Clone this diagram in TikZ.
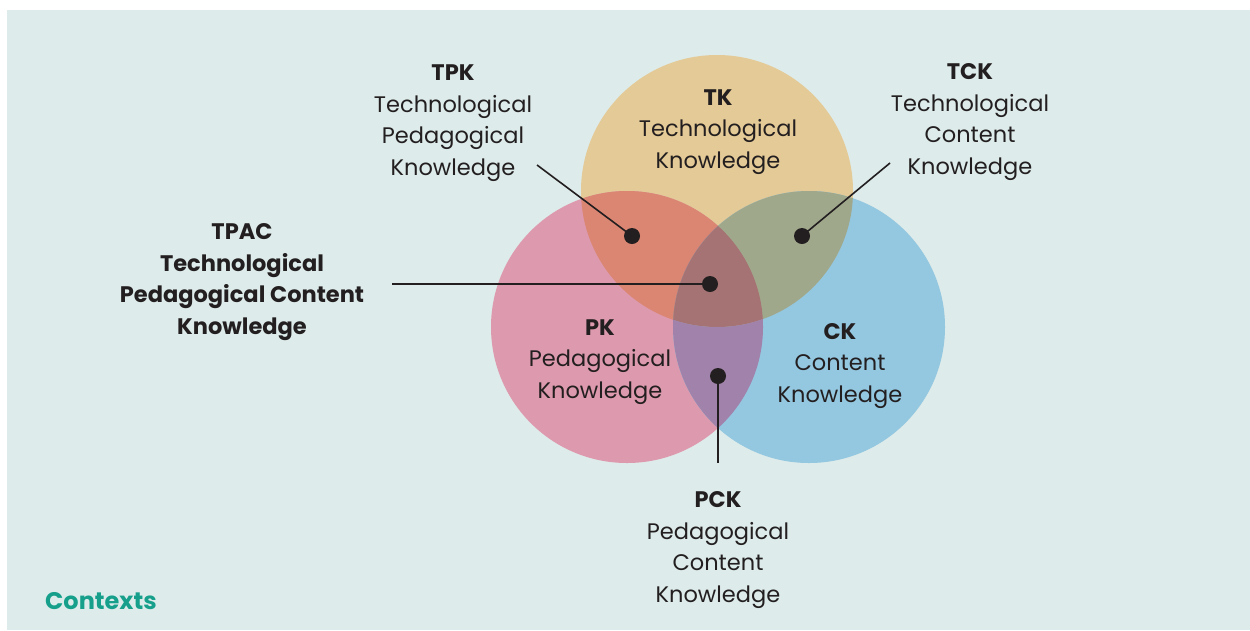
\documentclass[tikz,border=0pt]{standalone}
\usepackage{fontspec}
\setmainfont{Poppins}
\usetikzlibrary{backgrounds}

\definecolor{bgcol}{HTML}{DDEBEA}
\definecolor{tkcol}{HTML}{E4CA96}
\definecolor{pkcol}{HTML}{DD9AAE}
\definecolor{ckcol}{HTML}{94C7E0}
\definecolor{tpkcol}{HTML}{DA8672}
\definecolor{tckcol}{HTML}{A0A88C}
\definecolor{pckcol}{HTML}{A082AA}
\definecolor{tpaccol}{HTML}{A57373}
\definecolor{inkcol}{HTML}{231F20}
\definecolor{ctxcol}{HTML}{16A08C}

\tikzset{
  lbl/.style={align=center, text=inkcol, inner sep=0pt,
    font=\fontsize{22.5}{31.7}\selectfont},
  pin/.style={fill=inkcol, radius=8pt},
  lead/.style={draw=inkcol, line width=1.6pt}
}

\begin{document}
\begin{tikzpicture}[x=1pt, y=-1pt]
\useasboundingbox (0,0) rectangle (1250,630);
\fill[bgcol] (7,10) rectangle (1250,630);

% circle centres
\coordinate (tkc) at (717,191);
\coordinate (pkc) at (627,327);
\coordinate (ckc) at (809,327);

% the three circles
\fill[tkcol] (tkc) circle[radius=136pt];
\fill[pkcol] (pkc) circle[radius=136pt];
\fill[ckcol] (ckc) circle[radius=136pt];
% overlaps
\begin{scope}
  \clip (tkc) circle[radius=136pt];
  \fill[tpkcol] (pkc) circle[radius=136pt];
  \fill[tckcol] (ckc) circle[radius=136pt];
  \clip (pkc) circle[radius=136pt];
  \fill[tpaccol] (ckc) circle[radius=136pt];
\end{scope}
\begin{scope}
  \clip (pkc) circle[radius=136pt];
  \clip (ckc) circle[radius=136pt];
  \fill[pckcol, even odd rule] (ckc) circle[radius=136pt] (tkc) circle[radius=136pt];
\end{scope}

% labels
\node[lbl] (tk) at (718,132) {\textbf{TK}\\Technological\\Knowledge};
\node[lbl] (pk) at (600,362) {\textbf{PK}\\Pedagogical\\Knowledge};
\node[lbl] (ck) at (840,366) {\textbf{CK}\\Content\\Knowledge};
\node[lbl] (tpk) at (453,123) {\textbf{TPK}\\Technological\\Pedagogical\\Knowledge};
\node[lbl] (tck) at (970,122) {\textbf{TCK}\\Technological\\Content\\Knowledge};
\node[lbl, font=\fontsize{22.5}{31.7}\selectfont\bfseries] (tpac) at (242,282)
  {TPAC\\Technological\\Pedagogical Content\\Knowledge};
\node[lbl] (pck) at (718,550) {\textbf{PCK}\\Pedagogical\\Content\\Knowledge};
\node[lbl, anchor=west, text=ctxcol, font=\fontsize{24}{26}\selectfont\bfseries]
  (ctx) at (45,601) {Contexts};

% dots and leader lines
\coordinate (tpkdot) at (632,236);
\coordinate (tckdot) at (802,236);
\coordinate (tpacdot) at (710,284);
\coordinate (pckdot) at (718,376);
\coordinate (tpkend) at (537,165);
\coordinate (tckend) at (890,163);
\coordinate (tpacend) at (392,284);
\coordinate (pckend) at (718,463);

\draw[lead] (tpkend) -- (tpkdot);
\draw[lead] (tckend) -- (tckdot);
\draw[lead] (tpacend) -- (tpacdot);
\draw[lead] (pckdot) -- (pckend);
\foreach \d in {tpkdot,tckdot,tpacdot,pckdot}
  \fill[pin] (\d) circle;
\end{tikzpicture}
\end{document}
